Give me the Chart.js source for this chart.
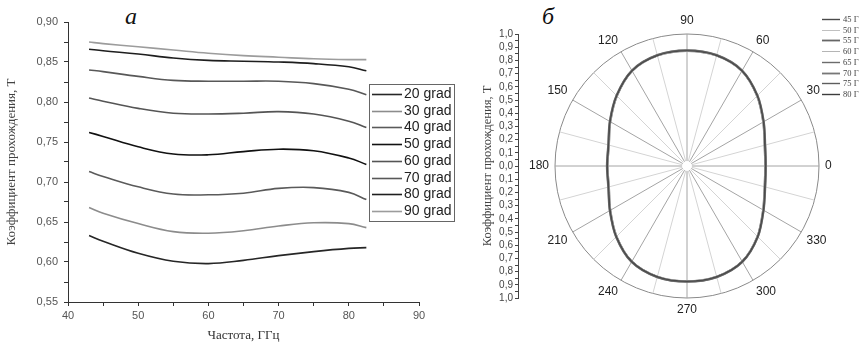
<!DOCTYPE html>
<html>
<head>
<meta charset="utf-8">
<script src="https://cdn.jsdelivr.net/npm/chart.js@4.4.1/dist/chart.umd.min.js"></script>
<style>
  html, body { margin: 0; padding: 0; background: #fff; }
  body { width: 863px; height: 347px; position: relative; overflow: hidden; }
  canvas { position: absolute; }
  .letter { position: absolute; font: italic 24px "Liberation Serif", serif; color: #111; }
</style>
</head>
<body>
<div class="letter" style="left:125px; top:3px;">а</div>
<div class="letter" style="left:542px; top:3px;">б</div>
<canvas id="lineChart" width="470" height="347" style="left:0; top:0;"></canvas>
<canvas id="axisChart" width="45" height="347" style="left:476px; top:0;"></canvas>
<canvas id="polarChart" width="352" height="332" style="left:511px; top:0;"></canvas>
<script>
// панель а: частота, ГГц
const freq = [43, 45, 50, 55, 60, 65, 70, 75, 80, 82.5];
const g20 = [0.633, 0.626, 0.611, 0.601, 0.598, 0.602, 0.608, 0.613, 0.617, 0.618];
const g30 = [0.668, 0.661, 0.648, 0.638, 0.636, 0.639, 0.645, 0.649, 0.648, 0.643];
const g40 = [0.713, 0.707, 0.694, 0.685, 0.684, 0.686, 0.692, 0.693, 0.687, 0.678];
const g50 = [0.762, 0.757, 0.744, 0.735, 0.734, 0.738, 0.741, 0.739, 0.730, 0.722];
const g60 = [0.805, 0.801, 0.792, 0.786, 0.785, 0.786, 0.788, 0.785, 0.776, 0.768];
const g70 = [0.840, 0.838, 0.832, 0.827, 0.826, 0.826, 0.826, 0.823, 0.816, 0.809];
const g80 = [0.866, 0.864, 0.860, 0.855, 0.852, 0.851, 0.850, 0.848, 0.844, 0.839];
const g90 = [0.875, 0.873, 0.869, 0.865, 0.861, 0.858, 0.856, 0.854, 0.853, 0.853];
const gradLabels = ['20 grad', '30 grad', '40 grad', '50 grad', '60 grad', '70 grad', '80 grad', '90 grad'];

// панель б: угол, градусы (0..345 через 15)
const polarAngles = [0, 15, 30, 45, 60, 75, 90, 105, 120, 135, 150, 165, 180, 195, 210, 225, 240, 255, 270, 285, 300, 315, 330, 345];
const p45 = [0.593, 0.610, 0.668, 0.752, 0.832, 0.866, 0.872, 0.866, 0.832, 0.752, 0.672, 0.614, 0.603, 0.614, 0.672, 0.756, 0.836, 0.868, 0.873, 0.868, 0.836, 0.756, 0.667, 0.610];
const p50 = [0.588, 0.605, 0.663, 0.747, 0.828, 0.862, 0.868, 0.862, 0.828, 0.747, 0.667, 0.609, 0.599, 0.609, 0.667, 0.751, 0.832, 0.864, 0.869, 0.864, 0.832, 0.751, 0.662, 0.605];
const p55 = [0.597, 0.613, 0.671, 0.755, 0.835, 0.869, 0.875, 0.869, 0.835, 0.755, 0.675, 0.617, 0.606, 0.617, 0.675, 0.759, 0.839, 0.871, 0.876, 0.871, 0.839, 0.759, 0.670, 0.613];
const p60 = [0.591, 0.607, 0.665, 0.749, 0.830, 0.864, 0.870, 0.864, 0.830, 0.749, 0.669, 0.611, 0.601, 0.611, 0.669, 0.753, 0.834, 0.866, 0.871, 0.866, 0.834, 0.753, 0.664, 0.607];
const p65 = [0.595, 0.611, 0.669, 0.753, 0.833, 0.867, 0.873, 0.867, 0.833, 0.753, 0.673, 0.615, 0.604, 0.615, 0.673, 0.757, 0.837, 0.869, 0.874, 0.869, 0.837, 0.757, 0.668, 0.611];
const p70 = [0.599, 0.615, 0.673, 0.757, 0.837, 0.871, 0.877, 0.871, 0.837, 0.757, 0.677, 0.619, 0.608, 0.619, 0.677, 0.761, 0.841, 0.873, 0.878, 0.873, 0.841, 0.761, 0.672, 0.615];
const p75 = [0.590, 0.606, 0.664, 0.748, 0.829, 0.863, 0.869, 0.863, 0.829, 0.748, 0.668, 0.610, 0.600, 0.610, 0.668, 0.752, 0.833, 0.865, 0.870, 0.865, 0.833, 0.752, 0.663, 0.606];
const p80 = [0.594, 0.609, 0.667, 0.751, 0.831, 0.865, 0.871, 0.865, 0.831, 0.751, 0.671, 0.613, 0.602, 0.613, 0.671, 0.755, 0.835, 0.867, 0.872, 0.867, 0.835, 0.755, 0.666, 0.609];
const ghzLabels = ['45 Г', '50 Г', '55 Г', '60 Г', '65 Г', '70 Г', '75 Г', '80 Г'];

const SANS = '"Liberation Sans", Arial, sans-serif';
const SERIF = '"Liberation Serif", "Times New Roman", serif';
const comma = (v, d) => v.toFixed(d).replace('.', ',');

// простая легенда: линия + подпись, по наборам данных
const lineLegend = {
  id: 'lineLegend',
  afterDraw(chart, args, o) {
    const ctx = chart.ctx;
    ctx.save();
    if (o.box) {
      ctx.strokeStyle = o.box.color;
      ctx.lineWidth = 1;
      ctx.strokeRect(o.box.x + 0.5, o.box.y + 0.5, o.box.w, o.box.h);
    }
    ctx.font = o.font;
    ctx.fillStyle = o.textColor;
    ctx.textBaseline = 'middle';
    chart.data.datasets.forEach((ds, i) => {
      const y = Math.round(o.y + i * o.row) + 0.5;
      ctx.strokeStyle = ds.borderColor;
      ctx.lineWidth = ds.borderWidth;
      ctx.beginPath();
      ctx.moveTo(o.x1, y);
      ctx.lineTo(o.x2, y);
      ctx.stroke();
      ctx.fillText(ds.label, o.tx, y);
    });
    ctx.restore();
  }
};

// ---------- а ----------
const lineColors = ['#262626', '#8c8c8c', '#5a5a5a', '#111111', '#555555', '#585858', '#1e1e1e', '#9c9c9c'];
const gradSeries = [g20, g30, g40, g50, g60, g70, g80, g90];

new Chart(document.getElementById('lineChart'), {
  type: 'line',
  data: {
    datasets: gradSeries.map((s, k) => ({
      label: gradLabels[k],
      data: s.map((v, i) => ({ x: freq[i], y: v })),
      borderColor: lineColors[k],
      borderWidth: 1.6,
      pointRadius: 0,
      fill: false,
      tension: 0.4
    }))
  },
  options: {
    responsive: false,
    animation: false,
    events: [],
    layout: { padding: { left: 0, right: 51, top: 22, bottom: 0 } },
    plugins: {
      legend: { display: false },
      tooltip: { enabled: false },
      lineLegend: {
        box: { x: 369, y: 84, w: 85, h: 137, color: '#666' },
        x1: 372, x2: 402, tx: 404, y: 94, row: 16.7,
        font: '14px ' + SANS, textColor: '#222'
      }
    },
    scales: {
      x: {
        type: 'linear', min: 40, max: 90,
        afterFit: s => { s.height = 45; },
        grid: { drawOnChartArea: false, tickLength: 4, color: '#333' },
        border: { color: '#333', width: 1 },
        ticks: {
          stepSize: 5, autoSkip: false, maxRotation: 0, padding: 3,
          color: '#555', font: { family: SANS, size: 11 },
          callback: (v, i) => (i % 2 ? '' : String(v))
        },
        title: {
          display: true, text: 'Частота, ГГц', color: '#333',
          font: { family: SERIF, size: 13 }, padding: { top: 4, bottom: 4 }
        }
      },
      y: {
        min: 0.55, max: 0.90,
        afterFit: s => { s.width = 68; },
        grid: { drawOnChartArea: false, tickLength: 4, color: '#333' },
        border: { color: '#333', width: 1 },
        ticks: {
          stepSize: 0.025, autoSkip: false, padding: 6,
          color: '#555', font: { family: SANS, size: 11 },
          callback: (v, i) => (i % 2 ? '' : comma(v, 2))
        },
        title: {
          display: true, text: 'Коэффициент прохождения, Т', color: '#444',
          font: { family: SERIF, size: 13 }, padding: { top: 4, bottom: 2 }
        }
      }
    }
  },
  plugins: [lineLegend]
});

// ---------- б: вертикальная ось 1,0 .. 0,0 .. 1,0 ----------
new Chart(document.getElementById('axisChart'), {
  type: 'line',
  data: { labels: [], datasets: [] },
  options: {
    responsive: false,
    animation: false,
    events: [],
    layout: { padding: { left: 0, right: 0, top: 34, bottom: 49 } },
    plugins: { legend: { display: false }, tooltip: { enabled: false } },
    scales: {
      x: { display: false },
      y: {
        min: -1, max: 1,
        afterFit: s => { s.width = 42; },
        grid: { drawOnChartArea: false, tickLength: 3, color: '#444' },
        border: { color: '#444', width: 1 },
        ticks: {
          stepSize: 0.05, autoSkip: false, padding: 2,
          color: '#444', font: { family: SANS, size: 10 },
          callback: (v, i) => (i % 2 ? '' : comma(Math.abs(v), 1))
        },
        title: {
          display: true, text: 'Коэффициент прохождения, Т', color: '#444',
          font: { family: SERIF, size: 12.5 }, padding: { top: 4, bottom: 1 }
        }
      }
    }
  }
});

// ---------- б: полярный график ----------
// радар идёт по часовой стрелке от 0°, поэтому порядок углов обратный
const order = polarAngles.map((_, i) => (polarAngles.length - i) % polarAngles.length);
const polarSeries = [p45, p50, p55, p60, p65, p70, p75, p80];
const polarColors = ['#4a4a4a', '#c0c0c0', '#666666', '#b5b5b5', '#6c6c6c', '#777777', '#5e5e5e', '#3c3c3c'];
const polarWidths = [1.4, 1.0, 1.8, 1.0, 1.4, 1.8, 1.4, 1.4];

const angleLabels = {
  id: 'angleLabels',
  afterDraw(chart) {
    const ctx = chart.ctx;
    const r = chart.scales.r;
    ctx.save();
    // белый кружок в центре
    ctx.fillStyle = '#fff';
    ctx.beginPath();
    ctx.arc(r.xCenter, r.yCenter, 5, 0, Math.PI * 2);
    ctx.fill();
    ctx.font = '12px ' + SANS;
    ctx.fillStyle = '#222';
    chart.data.labels.forEach((lab, i) => {
      if (lab % 30) return;
      const a = r.getIndexAngle(i) - Math.PI / 2;
      const c = Math.cos(a), s = Math.sin(a);
      const p = r.getPointPosition(i, r.drawingArea + 6);
      ctx.textAlign = c > 0.3 ? 'left' : (c < -0.3 ? 'right' : 'center');
      ctx.textBaseline = s < -0.3 ? 'bottom' : (s > 0.3 ? 'top' : 'middle');
      ctx.fillText(String(lab), p.x, p.y + (s < -0.9 ? -1 : 0));
    });
    ctx.restore();
  }
};

new Chart(document.getElementById('polarChart'), {
  type: 'radar',
  data: {
    labels: order.map(i => polarAngles[i]),
    datasets: polarSeries.map((s, k) => ({
      label: ghzLabels[k],
      data: order.map(i => s[i]),
      borderColor: polarColors[k],
      borderWidth: polarWidths[k],
      pointRadius: 0,
      fill: false,
      tension: 0.3
    }))
  },
  options: {
    responsive: false,
    animation: false,
    events: [],
    layout: { padding: { left: 44, right: 44, top: 34, bottom: 34 } },
    plugins: {
      legend: { display: false },
      tooltip: { enabled: false },
      lineLegend: {
        x1: 311, x2: 329, tx: 332, y: 19, row: 10.7,
        font: '8.5px ' + SERIF, textColor: '#444'
      }
    },
    scales: {
      r: {
        min: 0, max: 1,
        startAngle: 90,
        ticks: { display: false, stepSize: 1 },
        pointLabels: { display: false },
        grid: { circular: true, color: '#8a8a8a', lineWidth: 1 },
        angleLines: {
          color: c => (polarAngles[order[c.index]] % 30 ? '#d4d4d4' : '#a4a4a4'),
          lineWidth: 1
        }
      }
    }
  },
  plugins: [lineLegend, angleLabels]
});
</script>
</body>
</html>
